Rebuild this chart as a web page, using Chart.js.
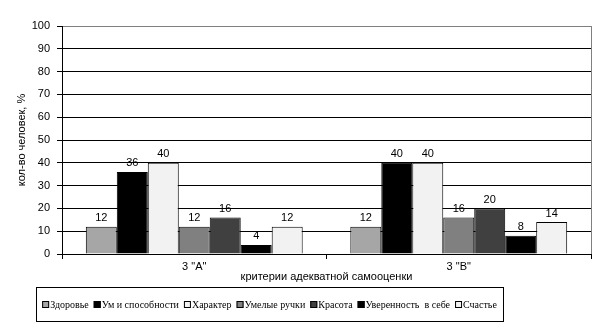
<!DOCTYPE html>
<html>
<head>
<meta charset="utf-8">
<script src="https://cdn.jsdelivr.net/npm/chart.js@4.4.0/dist/chart.umd.min.js"></script>
<style>
  body { margin: 0; background: #fff; }
  canvas { display: block; }
</style>
</head>
<body>
<canvas id="chart" width="613" height="335"></canvas>
<script>
const classes = ['3 "А"', '3 "В"'];
const seriesNames = ['Здоровье', 'Ум и способности', 'Характер', 'Умелые ручки', 'Красота', 'Уверенность  в себе', 'Счастье'];
const seriesColors = ['#a6a6a6', '#000000', '#f2f2f2', '#808080', '#404040', '#000000', '#f2f2f2'];
const zdorovie = [12, 12];
const umSposobnosti = [36, 40];
const harakter = [40, 40];
const umelyeRuchki = [12, 16];
const krasota = [16, 20];
const uverennost = [4, 8];
const schastie = [12, 14];
const seriesValues = [zdorovie, umSposobnosti, harakter, umelyeRuchki, krasota, uverennost, schastie];
const yTicks = { min: 0, max: 100, step: 10 };

const sansFont = { family: '"Liberation Sans", Arial, sans-serif', size: 11 };

// value labels above each bar
const valueLabels = {
    id: 'valueLabels',
    afterDatasetsDraw(chart) {
        const c = chart.ctx;
        c.save();
        c.font = '11px "Liberation Sans", Arial, sans-serif';
        c.fillStyle = '#000';
        c.textAlign = 'center';
        c.textBaseline = 'bottom';
        chart.data.datasets.forEach((ds, i) => {
            chart.getDatasetMeta(i).data.forEach((bar, j) => {
                c.fillText(ds.data[j], bar.x, bar.y - 3);
            });
        });
        c.restore();
    }
};

// gray right border of plot area + boxed legend
const frameAndLegend = {
    id: 'frameAndLegend',
    afterDraw(chart) {
        const c = chart.ctx;
        const a = chart.chartArea;
        c.save();
        c.strokeStyle = '#808080';
        c.lineWidth = 1;
        c.beginPath();
        c.moveTo(Math.round(a.right) + 0.5, a.top);
        c.lineTo(Math.round(a.right) + 0.5, a.bottom);
        c.stroke();

        // legend box
        const bx = 36, by = 287, bw = 467, bh = 34;
        c.strokeStyle = '#000';
        c.strokeRect(bx + 0.5, by + 0.5, bw, bh);

        c.font = '10px "Liberation Serif", "Times New Roman", serif';
        c.textBaseline = 'middle';
        c.textAlign = 'left';
        const box = 7, gapText = 1, gapItem = 5;
        const items = chart.data.datasets.map(ds => ({
            label: ds.label, color: ds.backgroundColor, w: c.measureText(ds.label).width
        }));
        let total = 0;
        items.forEach((it, k) => { total += box + gapText + it.w + (k < items.length - 1 ? gapItem : 0); });
        let x = bx + (bw - total) / 2;
        const cy = by + bh / 2 + 1;
        items.forEach(it => {
            c.fillStyle = it.color;
            c.fillRect(x, cy - 4, box, box);
            c.strokeStyle = '#000';
            c.strokeRect(x + 0.5, cy - 3.5, box - 1, box - 1);
            c.fillStyle = '#000';
            c.fillText(it.label, x + box + gapText, cy);
            x += box + gapText + it.w + gapItem;
        });
        c.restore();
    }
};

new Chart(document.getElementById('chart'), {
    type: 'bar',
    data: {
        labels: classes,
        datasets: seriesNames.map((name, i) => ({
            label: name,
            data: seriesValues[i],
            backgroundColor: seriesColors[i],
            borderColor: '#000',
            borderWidth: 1,
            categoryPercentage: 0.82,
            barPercentage: 1
        }))
    },
    options: {
        responsive: false,
        animation: false,
        layout: { padding: { left: 0, top: 26, right: 22, bottom: 51 } },
        plugins: {
            legend: { display: false },
            tooltip: { enabled: false }
        },
        scales: {
            x: {
                afterFit(scale) { scale.height = 30; },
                grid: {
                    offset: true,
                    drawOnChartArea: false,
                    drawTicks: true,
                    tickLength: 5,
                    color: '#000'
                },
                border: { color: '#000' },
                ticks: { color: '#000', font: sansFont, padding: 1, maxRotation: 0 },
                title: {
                    display: true,
                    text: 'критерии адекватной самооценки',
                    color: '#000',
                    font: sansFont,
                    padding: { top: 0, bottom: 0 }
                }
            },
            y: {
                min: yTicks.min,
                max: yTicks.max,
                afterFit(scale) { scale.width = 62; },
                ticks: { stepSize: yTicks.step, color: '#000', font: sansFont, padding: 7 },
                grid: {
                    color: ctx => (ctx.tick && ctx.tick.value === yTicks.max ? '#808080' : '#000'),
                    tickColor: '#000',
                    tickLength: 5
                },
                border: { color: '#000' },
                title: {
                    display: true,
                    text: 'кол-во человек, %',
                    color: '#000',
                    font: sansFont,
                    padding: { top: 15, bottom: 0 }
                }
            }
        }
    },
    plugins: [valueLabels, frameAndLegend]
});
</script>
</body>
</html>
